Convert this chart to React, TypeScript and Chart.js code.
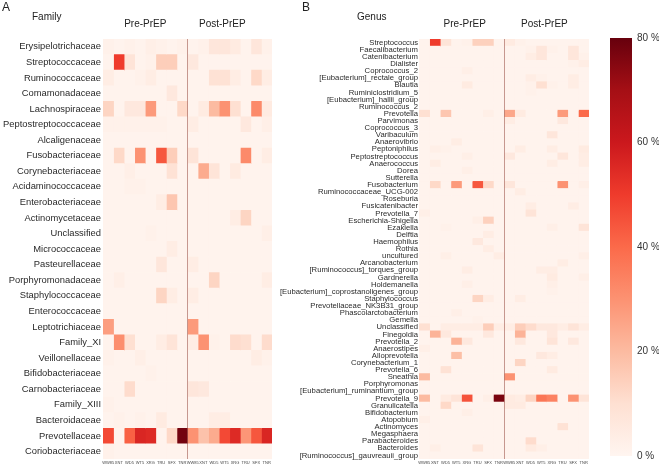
import React, { useEffect, useRef } from 'react';
import { Chart, registerables } from 'chart.js';

Chart.register(...registerables);

const FONT = '"Liberation Sans", Arial, Helvetica, sans-serif';

// ---------- data ----------
const columnLabels = ['WW85', 'XNT', 'WD5', 'WT5', 'XRG', 'TRU', 'SFX', 'TNR'];
const groupLabels = ['Pre-PrEP', 'Post-PrEP'];
const colorbarTicks = [0, 20, 40, 60, 80];
const colorMax = 80;

const families = [
  'Erysipelotrichaceae', 'Streptococcaceae', 'Ruminococcaceae', 'Comamonadaceae', 'Lachnospiraceae',
  'Peptostreptococcaceae', 'Alcaligenaceae', 'Fusobacteriaceae', 'Corynebacteriaceae', 'Acidaminococcaceae',
  'Enterobacteriaceae', 'Actinomycetaceae', 'Unclassified', 'Micrococcaceae', 'Pasteurellaceae',
  'Porphyromonadaceae', 'Staphylococcaceae', 'Enterococcaceae', 'Leptotrichiaceae', 'Family_XI',
  'Veillonellaceae', 'Bifidobacteriaceae', 'Carnobacteriaceae', 'Family_XIII', 'Bacteroidaceae',
  'Prevotellaceae', 'Coriobacteriaceae',
];

const familyPre = [
  [2, 1, 2, 1, 3, 2, 1, 2],
  [1, 50, 8, 1, 2, 15, 15, 1],
  [4, 1, 1, 2, 4, 1, 1, 1],
  [1, 1, 1, 1, 1, 1, 6, 1],
  [13, 1, 6, 6, 28, 1, 1, 12],
  [2, 2, 2, 2, 2, 2, 1, 1],
  [1, 1, 1, 1, 1, 1, 1, 1],
  [1, 12, 1, 30, 1, 44, 15, 1],
  [1, 1, 3, 1, 1, 1, 9, 1],
  [1, 1, 2, 2, 1, 1, 1, 1],
  [1, 1, 1, 1, 1, 4, 17, 1],
  [1, 1, 1, 1, 1, 1, 1, 1],
  [1, 1, 1, 1, 2, 1, 1, 1],
  [1, 1, 1, 1, 1, 1, 4, 1],
  [1, 1, 1, 1, 1, 7, 1, 1],
  [1, 3, 1, 1, 1, 1, 1, 1],
  [1, 1, 1, 1, 1, 13, 4, 1],
  [1, 1, 1, 1, 1, 1, 1, 1],
  [27, 1, 1, 1, 1, 1, 1, 1],
  [1, 31, 10, 1, 1, 4, 8, 1],
  [2, 1, 1, 3, 1, 1, 1, 1],
  [1, 1, 1, 1, 2, 1, 1, 1],
  [1, 1, 11, 1, 1, 1, 1, 1],
  [2, 1, 1, 1, 1, 1, 1, 1],
  [1, 2, 1, 2, 1, 5, 1, 1],
  [47, 1, 42, 56, 55, 1, 12, 78],
  [2, 1, 1, 1, 1, 1, 1, 1],
];

const familyPost = [
  [1, 2, 7, 7, 5, 1, 7, 2],
  [6, 1, 1, 1, 1, 1, 1, 1],
  [1, 1, 9, 9, 4, 1, 12, 4],
  [1, 1, 1, 1, 1, 1, 1, 1],
  [1, 5, 20, 30, 10, 1, 32, 5],
  [4, 1, 1, 1, 1, 6, 1, 3],
  [1, 1, 1, 1, 1, 1, 1, 1],
  [8, 1, 1, 1, 1, 32, 1, 4],
  [1, 24, 8, 1, 5, 1, 1, 1],
  [1, 1, 1, 1, 1, 1, 1, 1],
  [1, 1, 1, 1, 1, 1, 1, 1],
  [1, 1, 1, 1, 4, 13, 1, 1],
  [1, 1, 1, 1, 1, 1, 1, 3],
  [1, 1, 1, 1, 1, 1, 1, 1],
  [4, 1, 1, 1, 1, 1, 1, 1],
  [1, 1, 13, 1, 1, 1, 1, 4],
  [4, 1, 1, 1, 1, 1, 1, 1],
  [1, 1, 1, 1, 1, 1, 1, 1],
  [28, 1, 1, 1, 1, 1, 1, 1],
  [4, 30, 2, 1, 11, 10, 1, 11],
  [1, 1, 1, 1, 1, 1, 4, 2],
  [1, 1, 1, 1, 1, 1, 1, 1],
  [7, 6, 1, 1, 1, 1, 1, 1],
  [1, 1, 1, 1, 1, 1, 1, 1],
  [1, 1, 4, 4, 1, 1, 1, 1],
  [30, 18, 24, 47, 55, 29, 44, 56],
  [1, 1, 1, 1, 1, 1, 1, 1],
];

const genera = [
  'Streptococcus', 'Faecalibacterium', 'Catenibacterium', 'Dialister', 'Coprococcus_2',
  '[Eubacterium]_rectale_group', 'Blautia', 'Ruminiclostridium_5', '[Eubacterium]_hallii_group', 'Ruminococcus_2',
  'Prevotella', 'Parvimonas', 'Coprococcus_3', 'Varibaculum', 'Anaerovibrio',
  'Peptoniphilus', 'Peptostreptococcus', 'Anaerococcus', 'Dorea', 'Sutterella',
  'Fusobacterium', 'Ruminococcaceae_UCG-002', 'Roseburia', 'Fusicatenibacter', 'Prevotella_7',
  'Escherichia-Shigella', 'Ezakiella', 'Delftia', 'Haemophilus', 'Rothia',
  'uncultured', 'Arcanobacterium', '[Ruminococcus]_torques_group', 'Gardnerella', 'Holdemanella',
  '[Eubacterium]_coprostanoligenes_group', 'Staphylococcus', 'Prevotellaceae_NK3B31_group', 'Phascolarctobacterium', 'Gemella',
  'Unclassified', 'Finegoldia', 'Prevotella_2', 'Anaerostipes', 'Alloprevotella',
  'Corynebacterium_1', 'Prevotella_6', 'Sneathia', 'Porphyromonas', '[Eubacterium]_ruminantium_group',
  'Prevotella_9', 'Granulicatella', 'Bifidobacterium', 'Atopobium', 'Actinomyces',
  'Megasphaera', 'Parabacteroides', 'Bacteroides', '[Ruminococcus]_gauvreauii_group',
];

const genusPre = [
  [1, 50, 8, 1, 2, 14, 14, 1],
  [1, 1, 1, 1, 1, 1, 1, 1],
  [1, 1, 1, 1, 1, 1, 1, 1],
  [1, 1, 1, 1, 1, 1, 1, 1],
  [1, 1, 1, 1, 3, 1, 1, 1],
  [1, 1, 1, 1, 1, 1, 1, 1],
  [1, 1, 1, 1, 5, 1, 1, 1],
  [1, 1, 1, 1, 1, 1, 1, 1],
  [1, 1, 1, 1, 1, 1, 1, 1],
  [1, 1, 1, 1, 1, 1, 1, 1],
  [10, 1, 17, 1, 1, 1, 3, 1],
  [1, 1, 1, 1, 1, 1, 1, 1],
  [1, 1, 1, 1, 1, 1, 1, 1],
  [1, 1, 1, 1, 1, 1, 1, 1],
  [1, 1, 1, 4, 1, 1, 1, 1],
  [1, 3, 2, 1, 1, 1, 1, 1],
  [1, 1, 1, 1, 3, 1, 1, 1],
  [1, 4, 1, 1, 1, 1, 1, 1],
  [1, 1, 1, 1, 3, 1, 1, 1],
  [1, 1, 1, 1, 1, 1, 1, 1],
  [1, 12, 1, 28, 1, 44, 12, 1],
  [1, 1, 1, 1, 1, 1, 1, 1],
  [1, 1, 1, 1, 1, 1, 1, 1],
  [1, 1, 1, 1, 1, 1, 1, 1],
  [3, 1, 1, 1, 1, 1, 1, 1],
  [1, 1, 1, 1, 1, 3, 14, 1],
  [1, 1, 2, 1, 1, 1, 1, 1],
  [1, 1, 1, 1, 1, 1, 4, 1],
  [1, 1, 1, 1, 1, 6, 1, 1],
  [1, 1, 1, 1, 1, 1, 4, 1],
  [1, 1, 3, 1, 1, 1, 1, 4],
  [1, 1, 1, 1, 1, 1, 1, 1],
  [1, 1, 1, 1, 4, 1, 1, 1],
  [1, 1, 1, 1, 1, 1, 1, 1],
  [1, 1, 1, 1, 3, 1, 1, 1],
  [1, 1, 1, 1, 1, 1, 1, 1],
  [1, 1, 1, 1, 1, 13, 4, 1],
  [1, 1, 1, 1, 1, 1, 1, 1],
  [1, 1, 1, 3, 1, 1, 1, 1],
  [1, 1, 1, 1, 1, 2, 1, 1],
  [10, 1, 4, 4, 4, 4, 15, 4],
  [1, 22, 6, 1, 1, 1, 6, 1],
  [1, 1, 1, 22, 6, 1, 1, 1],
  [3, 1, 1, 1, 1, 1, 1, 1],
  [1, 1, 1, 19, 1, 1, 1, 1],
  [1, 1, 1, 1, 1, 1, 1, 1],
  [1, 1, 9, 1, 1, 1, 1, 1],
  [20, 1, 1, 1, 1, 1, 1, 1],
  [1, 1, 1, 1, 1, 1, 1, 1],
  [1, 1, 1, 1, 1, 1, 1, 1],
  [20, 1, 5, 8, 45, 1, 3, 77],
  [1, 1, 12, 1, 1, 1, 1, 1],
  [1, 1, 1, 1, 3, 1, 1, 1],
  [3, 1, 1, 1, 1, 1, 1, 1],
  [1, 1, 1, 1, 1, 1, 1, 1],
  [1, 1, 1, 1, 1, 1, 1, 1],
  [1, 1, 1, 1, 1, 1, 1, 1],
  [1, 3, 1, 1, 1, 8, 1, 1],
  [1, 1, 1, 1, 1, 1, 1, 1],
];

const genusPost = [
  [5, 2, 1, 1, 1, 1, 1, 1],
  [1, 1, 2, 7, 2, 1, 7, 1],
  [1, 1, 4, 7, 1, 1, 7, 2],
  [1, 1, 1, 1, 1, 1, 2, 4],
  [1, 1, 1, 1, 1, 1, 1, 1],
  [1, 1, 4, 2, 1, 1, 4, 1],
  [1, 1, 2, 10, 2, 1, 4, 1],
  [1, 1, 2, 1, 1, 1, 1, 1],
  [1, 1, 1, 1, 1, 1, 1, 1],
  [1, 1, 1, 1, 1, 1, 1, 1],
  [25, 5, 1, 1, 1, 28, 1, 40],
  [4, 1, 1, 1, 1, 6, 1, 1],
  [1, 1, 1, 1, 1, 1, 1, 1],
  [1, 1, 1, 1, 7, 1, 1, 1],
  [1, 1, 1, 1, 1, 1, 1, 1],
  [1, 4, 1, 1, 4, 1, 1, 5],
  [6, 1, 1, 1, 1, 7, 1, 4],
  [1, 1, 1, 1, 4, 1, 1, 4],
  [1, 1, 1, 1, 1, 1, 1, 1],
  [1, 1, 1, 1, 1, 1, 1, 1],
  [7, 1, 1, 1, 1, 30, 1, 3],
  [1, 4, 1, 1, 1, 1, 1, 1],
  [1, 1, 1, 1, 1, 1, 1, 1],
  [1, 1, 4, 1, 1, 1, 4, 1],
  [1, 1, 8, 1, 1, 1, 1, 1],
  [1, 1, 1, 1, 1, 1, 1, 1],
  [1, 1, 1, 1, 3, 1, 1, 8],
  [1, 1, 1, 1, 1, 1, 1, 1],
  [1, 1, 1, 1, 1, 1, 1, 1],
  [1, 1, 1, 1, 1, 1, 1, 1],
  [1, 1, 1, 1, 1, 1, 1, 3],
  [1, 1, 1, 1, 1, 4, 1, 1],
  [1, 1, 1, 4, 4, 1, 1, 1],
  [1, 1, 1, 1, 5, 1, 1, 3],
  [1, 1, 1, 1, 3, 1, 1, 1],
  [1, 1, 1, 1, 2, 1, 1, 1],
  [1, 4, 1, 1, 1, 1, 1, 1],
  [1, 1, 1, 1, 1, 1, 1, 1],
  [1, 1, 1, 1, 1, 1, 1, 1],
  [1, 1, 1, 1, 1, 1, 1, 1],
  [4, 15, 11, 6, 6, 4, 8, 4],
  [1, 22, 1, 1, 6, 1, 1, 1],
  [1, 6, 1, 1, 8, 1, 6, 1],
  [1, 1, 1, 1, 1, 1, 1, 1],
  [1, 1, 1, 6, 4, 1, 1, 1],
  [1, 13, 1, 1, 1, 1, 1, 1],
  [1, 1, 1, 1, 5, 1, 1, 1],
  [30, 1, 1, 1, 1, 1, 1, 1],
  [1, 1, 1, 1, 1, 1, 1, 1],
  [1, 1, 1, 1, 1, 1, 1, 1],
  [5, 4, 13, 37, 34, 1, 30, 8],
  [5, 5, 1, 1, 1, 1, 1, 1],
  [1, 1, 1, 1, 1, 1, 1, 1],
  [1, 1, 1, 1, 1, 1, 1, 1],
  [1, 1, 1, 1, 1, 9, 1, 1],
  [1, 1, 1, 1, 1, 1, 1, 1],
  [1, 1, 11, 1, 1, 1, 1, 1],
  [1, 1, 5, 3, 1, 1, 1, 1],
  [1, 1, 1, 1, 1, 1, 1, 1],
];

// ---------- colour scale (ColorBrewer Reds) ----------
const REDS = ['#fff5f0', '#fee0d2', '#fcbba1', '#fc9272', '#fb6a4a', '#ef3b2c', '#cb181d', '#a50f15', '#67000d'];

function hexToRgb(h: string) {
  const n = parseInt(h.slice(1), 16);
  return [(n >> 16) & 255, (n >> 8) & 255, n & 255];
}

function colorFor(v: number) {
  const t = Math.max(0, Math.min(1, v / colorMax)) * (REDS.length - 1);
  const i = Math.min(REDS.length - 2, Math.floor(t));
  const f = t - i;
  const a = hexToRgb(REDS[i]);
  const b = hexToRgb(REDS[i + 1]);
  const c = a.map((x, k) => Math.round(x + (b[k] - x) * f));
  return `rgb(${c[0]},${c[1]},${c[2]})`;
}

// ---------- plugin for the group headers ----------
const groupHeaderPlugin = {
  id: 'groupHeaders',
  afterDraw(chart: any, _args: any, opts: any) {
    if (!opts || !opts.items) return;
    const { ctx } = chart;
    const xs = chart.scales.x;
    ctx.save();
    ctx.font = `${opts.size}px ${FONT}`;
    ctx.fillStyle = opts.color;
    ctx.textAlign = 'center';
    ctx.textBaseline = 'middle';
    opts.items.forEach((it: any) => ctx.fillText(it.text, xs.getPixelForValue(it.at), opts.y));
    ctx.restore();
  },
};

type HeatOpts = {
  yWidth: number;
  right: number;
  top: number;
  xHeight: number;
  yFont: number;
  yPad: number;
  headerAt: number[];
};

function makeHeatmap(canvas: HTMLCanvasElement, rows: string[], pre: number[][], post: number[][], o: HeatOpts) {
  const cols = [...columnLabels, ...columnLabels];
  const datasets = cols.map((c, j) => ({
    label: `${j < 8 ? groupLabels[0] : groupLabels[1]} ${c}`,
    data: rows.map(() => [j, j + 1]),
    backgroundColor: rows.map((_, i) => colorFor(j < 8 ? pre[i][j] : post[i][j - 8])),
    borderWidth: 0,
    barPercentage: 1,
    categoryPercentage: 1,
    grouped: false,
  }));
  const tickVals: number[] = [];
  for (let j = 0; j < 16; j++) {
    if (j === 8) tickVals.push(8);
    tickVals.push(j + 0.5);
  }
  return new Chart(canvas, {
    type: 'bar',
    data: { labels: rows, datasets },
    plugins: [groupHeaderPlugin],
    options: {
      indexAxis: 'y',
      animation: false,
      responsive: false,
      devicePixelRatio: 1,
      layout: { padding: { top: o.top, right: o.right, left: 0, bottom: 0 } },
      plugins: {
        legend: { display: false },
        tooltip: { enabled: false },
        groupHeaders: {
          items: [
            { text: groupLabels[0], at: o.headerAt[0] },
            { text: groupLabels[1], at: o.headerAt[1] },
          ],
          y: 24,
          size: 10,
          color: '#222',
        },
      } as any,
      scales: {
        x: {
          type: 'linear',
          min: 0,
          max: 16,
          z: 1,
          afterBuildTicks: (s: any) => {
            s.ticks = tickVals.map((v) => ({ value: v }));
          },
          afterFit: (s: any) => {
            s.height = o.xHeight;
          },
          ticks: {
            autoSkip: false,
            maxRotation: 0,
            minRotation: 0,
            padding: 1,
            color: '#444',
            font: { size: 4, family: FONT },
            callback: (v: any) => (Number.isInteger(v) ? '' : cols[Math.floor(v)]),
          },
          grid: {
            z: 1,
            drawTicks: false,
            lineWidth: 1,
            color: (ctx: any) => (ctx.tick && ctx.tick.value === 8 ? 'rgba(160,90,80,0.6)' : 'rgba(0,0,0,0)'),
          },
          border: { display: false },
        },
        y: {
          type: 'category',
          afterFit: (s: any) => {
            s.width = o.yWidth;
          },
          ticks: {
            autoSkip: false,
            padding: o.yPad,
            color: '#2a2a2a',
            font: { size: o.yFont, family: FONT },
          },
          grid: { display: false, drawTicks: false },
          border: { display: false },
        },
      },
    } as any,
  });
}

function makeColorbar(canvas: HTMLCanvasElement) {
  return new Chart(canvas, {
    type: 'bar',
    data: {
      labels: [''],
      datasets: [
        {
          data: [[0, colorMax]] as any,
          borderWidth: 0,
          barPercentage: 1,
          categoryPercentage: 1,
          backgroundColor: (ctx: any) => {
            const chart = ctx.chart;
            if (!chart.chartArea) return REDS[4];
            const ys = chart.scales.y;
            const g = chart.ctx.createLinearGradient(0, ys.getPixelForValue(0), 0, ys.getPixelForValue(colorMax));
            REDS.forEach((c, i) => g.addColorStop(i / (REDS.length - 1), c));
            return g;
          },
        },
      ],
    },
    options: {
      animation: false,
      responsive: false,
      devicePixelRatio: 1,
      layout: { padding: { top: 38, bottom: 8, left: 10, right: 0 } },
      plugins: { legend: { display: false }, tooltip: { enabled: false } },
      scales: {
        x: { display: false },
        y: {
          position: 'right',
          min: 0,
          max: colorMax,
          afterBuildTicks: (s: any) => {
            s.ticks = colorbarTicks.map((v) => ({ value: v }));
          },
          afterFit: (s: any) => {
            s.width = 27;
          },
          ticks: {
            padding: 5,
            color: '#333',
            font: { size: 10, family: FONT },
            callback: (v: any) => `${v} %`,
          },
          grid: { display: false, drawTicks: false },
          border: { display: false },
        },
      },
    } as any,
  });
}

const textStyle: React.CSSProperties = {
  position: 'absolute',
  fontFamily: FONT,
  color: '#222',
  lineHeight: 1,
  whiteSpace: 'nowrap',
};

export default function App() {
  const aRef = useRef<HTMLCanvasElement>(null);
  const bRef = useRef<HTMLCanvasElement>(null);
  const cRef = useRef<HTMLCanvasElement>(null);

  useEffect(() => {
    Chart.defaults.font.family = FONT;
    const charts: Chart[] = [];
    if (aRef.current)
      charts.push(
        makeHeatmap(aRef.current, families, familyPre, familyPost, {
          yWidth: 103,
          right: 28,
          top: 39,
          xHeight: 7,
          yFont: 9.4,
          yPad: 2,
          headerAt: [4, 11.3],
        })
      );
    if (bRef.current)
      charts.push(
        makeHeatmap(bRef.current, genera, genusPre, genusPost, {
          yWidth: 159,
          right: 11,
          top: 39,
          xHeight: 8,
          yFont: 7.7,
          yPad: 1,
          headerAt: [4.3, 11.8],
        })
      );
    if (cRef.current) charts.push(makeColorbar(cRef.current));
    return () => charts.forEach((c) => c.destroy());
  }, []);

  return (
    <div style={{ position: 'absolute', left: 0, top: 0, width: 659, height: 467, background: '#fff', overflow: 'hidden' }}>
      <canvas ref={aRef} width={300} height={467} style={{ position: 'absolute', left: 0, top: 0, width: 300, height: 467 }} />
      <canvas ref={bRef} width={340} height={467} style={{ position: 'absolute', left: 260, top: 0, width: 340, height: 467 }} />
      <canvas ref={cRef} width={59} height={467} style={{ position: 'absolute', left: 600, top: 0, width: 59, height: 467 }} />
      <div style={{ ...textStyle, left: 2, top: 1, fontSize: 12 }}>A</div>
      <div style={{ ...textStyle, left: 32, top: 12, fontSize: 10 }}>Family</div>
      <div style={{ ...textStyle, left: 302, top: 1, fontSize: 12 }}>B</div>
      <div style={{ ...textStyle, left: 357, top: 12, fontSize: 10 }}>Genus</div>
    </div>
  );
}
